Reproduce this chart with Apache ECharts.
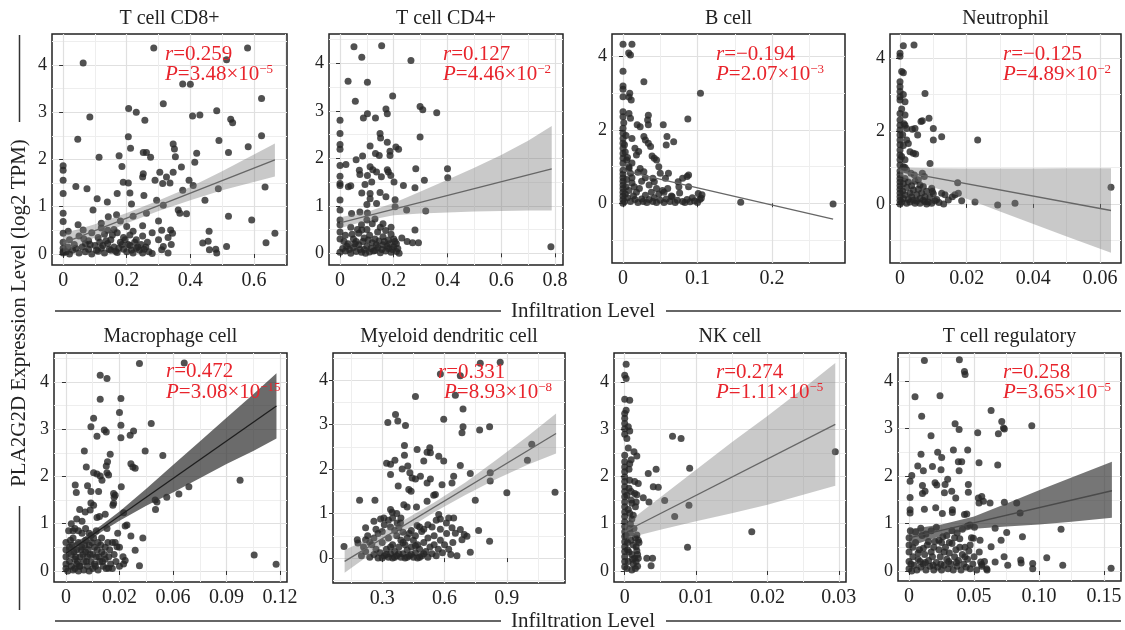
<!DOCTYPE html>
<html><head><meta charset="utf-8">
<script src="https://cdn.jsdelivr.net/npm/echarts@6/dist/echarts.min.js"></script>
<style>html,body{margin:0;padding:0;background:#fff}#c{width:1125px;height:630px}</style>
</head><body><div id="c"></div><script>
const FONT = "'Liberation Serif','Times New Roman',serif";
const RED = '#e8242c';

const titles = ['T cell CD8+','T cell CD4+','B cell','Neutrophil','Macrophage cell','Myeloid dendritic cell','NK cell','T cell regulatory'];
const rValues = ['0.259','0.127','\u22120.194','\u22120.125','0.472','0.331','0.274','0.258'];
const pMantissa = ['3.48','4.46','2.07','4.89','3.08','8.93','1.11','3.65'];
const pExponent = ['\u22125','\u22122','\u22123','\u22122','\u221215','\u22128','\u22125','\u22125'];

const xTicks = [[0,0.2,0.4,0.6],[0,0.2,0.4,0.6,0.8],[0,0.1,0.2],[0,0.02,0.04,0.06],[0,0.03,0.06,0.09,0.12],[0.3,0.6,0.9],[0,0.01,0.02,0.03],[0,0.05,0.10,0.15]];
const xTickLabels = [['0','0.2','0.4','0.6'],['0','0.2','0.4','0.6','0.8'],['0','0.1','0.2'],['0','0.02','0.04','0.06'],['0','0.02','0.06','0.09','0.12'],['0.3','0.6','0.9'],['0','0.01','0.02','0.03'],['0','0.05','0.10','0.15']];
const xMinorTicks = [[0.1,0.3,0.5,0.7],[0.1,0.3,0.5,0.7],[0.05,0.15,0.25],[0.01,0.03,0.05],[0.015,0.045,0.075,0.105],[0.15,0.45,0.75,1.05],[0.005,0.015,0.025],[0.025,0.075,0.125]];
const yTicks = [[0,1,2,3,4],[0,1,2,3,4],[0,2,4],[0,2,4],[0,1,2,3,4],[0,1,2,3,4],[0,1,2,3,4],[0,1,2,3,4]];
const yMinorTicks = [[0.5,1.5,2.5,3.5,4.5],[0.5,1.5,2.5,3.5,4.5],[-1,1,3],[-1,1,3],[0.5,1.5,2.5,3.5,4.5],[-0.5,0.5,1.5,2.5,3.5,4.5],[0.5,1.5,2.5,3.5,4.5],[0.5,1.5,2.5,3.5,4.5]];
const xRange = [[-0.035,0.704],[-0.041,0.83],[-0.0148,0.298],[-0.003,0.0663],[-0.0067,0.1239],[0.063,1.18],[-0.0015,0.031],[-0.0085,0.163]];
const yRange = [[-0.233,4.656],[-0.246,4.617],[-1.63,4.62],[-1.62,4.66],[-0.233,4.61],[-0.56,4.61],[-0.233,4.61],[-0.21,4.59]];

const cd8Points = [[0.063,4.04],[0.285,4.36],[0.58,4.36],[0.514,4.11],[0.376,3.6],[0.40,3.59],[0.084,2.9],[0.315,3.18],[0.206,3.08],[0.23,3.0],[0.257,2.83],[0.407,2.92],[0.43,2.94],[0.483,3.03],[0.624,3.29],[0.527,2.85],[0.533,2.78],[0.046,2.43],[0.205,2.48],[0.346,2.33],[0.35,2.22],[0.49,2.4],[0.582,2.27],[0.624,2.5],[0.212,2.24],[0.252,2.15],[0.262,2.15],[0,1.87],[0,1.77],[0,1.56],[0,1.28],[0,0.86],[0,0.69],[0,0.44],[0.113,2.05],[0.176,2.08],[0.275,2.05],[0.353,2.06],[0.185,1.85],[0.252,1.7],[0.25,1.63],[0.304,1.73],[0.325,1.63],[0.336,1.5],[0.346,1.73],[0.372,1.84],[0.396,1.56],[0.414,1.94],[0.42,2.13],[0.52,2.15],[0.04,1.43],[0.075,1.38],[0.189,1.52],[0.205,1.5],[0.289,1.56],[0.313,1.49],[0.17,1.28],[0.21,1.29],[0.254,1.24],[0.376,1.35],[0.409,1.45],[0.488,1.38],[0.446,1.14],[0.107,1.17],[0.139,1.1],[0.215,1.06],[0.294,1.14],[0.315,1.03],[0.362,0.93],[0.367,0.86],[0.388,0.85],[0.52,0.80],[0.593,0.72],[0.635,1.42],[0.666,0.44],[0.638,0.24],[0.514,0.16],[0.456,0.27],[0.439,0.23],[0.48,0.1],[0.483,0.02],[0.46,0.09],[0.459,0.48],[0.338,0.51],[0.344,0.44],[0.315,0.16],[0.31,0.09],[0.34,0.2],[0.33,0.02],[0.168,0.83],[0.142,0.79],[0.262,0.86],[0.094,0.93],[0.047,0.62],[0.063,0.51],[0.016,0.48],
[0.00,0.02],[0.01,0.05],[0.02,0.0],[0.03,0.08],[0.04,0.12],[0.05,0.02],[0.06,0.15],[0.07,0.05],[0.08,0.1],[0.09,0.0],[0.10,0.18],[0.11,0.06],[0.12,0.12],[0.13,0.02],[0.14,0.22],[0.15,0.08],[0.16,0.15],[0.17,0.03],[0.18,0.25],[0.19,0.1],[0.20,0.05],[0.21,0.18],[0.22,0.02],[0.23,0.12],[0.24,0.08],[0.25,0.02],[0.26,0.15],[0.27,0.05],[0.28,0.01],[0.02,0.3],[0.05,0.38],[0.08,0.28],[0.11,0.35],[0.13,0.42],[0.15,0.3],[0.17,0.45],[0.19,0.35],[0.21,0.4],[0.23,0.3],[0.25,0.38],[0.12,0.55],[0.16,0.52],[0.2,0.58],[0.22,0.48],[0.09,0.45],[0.07,0.22],[0.135,0.28],[0.185,0.2],[0.145,0.1],[0.165,0.06],[0.195,0.3],[0.205,0.2],[0.225,0.25],[0.245,0.2],[0.265,0.25],[0.155,0.4],[0.125,0.18],[0.105,0.08],[0.085,0.2],[0.065,0.32],[0.035,0.2],[0.015,0.15],[0.0,0.25],[0.0,0.12],[0.0,0.05],[0.115,0.25],[0.175,0.12],[0.215,0.08],[0.235,0.15],[0.255,0.1],[0.3,0.3],[0.31,0.5],[0.3,0.7],[0.33,0.35],[0.25,0.6],[0.28,0.45],[0.12,0.65],[0.18,0.7],[0.22,0.8],[0.14,0.5]];

const cd4Points = [[0.052,4.35],[0.155,4.37],[0.081,4.13],[0.264,4.06],[0.03,3.62],[0.102,3.6],[0.057,3.2],[0.196,3.31],[0.171,3.04],[0.176,2.94],[0.298,3.09],[0.308,3.02],[0.36,2.96],[0,2.8],[0.102,2.94],[0.087,2.85],[0.132,2.85],[0,2.52],[0.149,2.52],[0.151,2.43],[0.298,2.45],[0,2.29],[0,2.19],[0.176,2.34],[0.112,2.26],[0.132,2.1],[0.146,2.06],[0.186,2.15],[0.186,2.06],[0.208,2.24],[0.218,2.19],[0.084,2.05],[0.06,1.97],[0,1.85],[0.022,1.87],[0,1.62],[0,1.47],[0,1.43],[0.031,1.4],[0.04,1.42],[0.072,1.75],[0.074,1.66],[0.112,1.82],[0.122,1.76],[0.136,1.71],[0.176,1.76],[0.18,1.71],[0.189,1.64],[0.102,1.64],[0.118,1.5],[0.093,1.45],[0.154,1.61],[0.201,1.5],[0.236,1.43],[0.282,1.78],[0.314,1.54],[0.279,1.38],[0.4,1.78],[0.401,1.59],[0.081,1.27],[0.112,1.26],[0.112,1.15],[0.149,1.28],[0.171,1.19],[0.205,1.13],[0,1.12],[0.1,1.03],[0.136,1.05],[0,0.91],[0.043,0.84],[0.074,0.87],[0.102,0.85],[0.248,0.91],[0.319,0.89],[0.205,0.98],[0.279,0.49],[0.292,0.22],[0.081,0.49],[0.785,0.14],
[0.0,0.02],[0.01,0.1],[0.02,0.05],[0.03,0.2],[0.04,0.0],[0.05,0.12],[0.06,0.04],[0.07,0.18],[0.08,0.02],[0.09,0.08],[0.10,0.15],[0.11,0.03],[0.12,0.22],[0.13,0.06],[0.14,0.12],[0.15,0.01],[0.16,0.18],[0.17,0.05],[0.18,0.1],[0.19,0.02],[0.2,0.14],[0.21,0.04],[0.22,0.0],[0.0,0.3],[0.0,0.45],[0.0,0.6],[0.0,0.7],[0.02,0.38],[0.04,0.55],[0.05,0.3],[0.07,0.42],[0.08,0.6],[0.09,0.32],[0.1,0.5],[0.11,0.38],[0.12,0.62],[0.13,0.3],[0.14,0.45],[0.15,0.55],[0.16,0.35],[0.17,0.48],[0.18,0.28],[0.19,0.4],[0.2,0.3],[0.21,0.2],[0.13,0.72],[0.1,0.7],[0.06,0.25],[0.035,0.08],[0.055,0.2],[0.075,0.08],[0.085,0.25],[0.095,0.0],[0.105,0.28],[0.115,0.1],[0.125,0.05],[0.135,0.18],[0.145,0.26],[0.155,0.08],[0.165,0.25],[0.175,0.15],[0.185,0.2],[0.195,0.08],[0.205,0.25],[0.215,0.1],[0.015,0.25],[0.025,0.15],[0.045,0.4],[0.065,0.5],[0.16,0.62],[0.19,0.55],[0.23,0.32],[0.25,0.25],[0.27,0.22]];

const bCellPoints = [[0,4.34],[0.012,4.34],[0.0076,4.1],[0.01,4.05],[0,3.6],[0.028,3.32],[0,3.2],[0,3.11],[0,2.91],[0.008,2.9],[0.011,2.82],[0.009,3.0],[0.104,3.0],[0,2.5],[0,2.36],[0.008,2.45],[0.01,2.32],[0.034,2.4],[0.033,2.27],[0.087,2.3],[0,2.05],[0,1.91],[0,1.77],[0,1.64],[0,1.5],[0,1.36],[0,1.23],[0,1.09],[0.019,2.14],[0.023,2.09],[0.034,2.14],[0.054,2.14],[0.012,1.77],[0.028,1.82],[0.03,1.73],[0.059,1.82],[0.068,1.68],[0.058,1.59],[0.016,1.5],[0.021,1.41],[0.018,1.32],[0.037,1.55],[0.034,1.64],[0.039,1.29],[0.042,1.23],[0.045,1.18],[0.005,1.18],[0.008,0.95],[0.01,0.82],[0.023,0.95],[0.028,0.86],[0.048,1.0],[0.05,0.82],[0.061,0.82],[0.08,0.68],[0.086,0.73],[0.088,0.77],[0.04,0.68],[0.042,0.59],[0.057,0.68],[0.074,0.59],[0.088,0.45],[0.158,0.03],[0.282,-0.02],[0.101,0.27],[0.106,0.23],[0.105,0.14],
[0,0.0],[0,0.1],[0,0.2],[0,0.3],[0,0.4],[0,0.5],[0,0.6],[0,0.7],[0,0.8],[0,0.9],[0.002,0.05],[0.003,0.25],[0.004,0.45],[0.005,0.65],[0.006,0.15],[0.008,0.35],[0.01,0.05],[0.012,0.55],[0.014,0.2],[0.016,0.1],[0.018,0.3],[0.02,0.02],[0.022,0.4],[0.025,0.12],[0.027,0.05],[0.03,0.22],[0.032,0.02],[0.035,0.1],[0.038,0.3],[0.04,0.05],[0.042,0.15],[0.045,0.02],[0.048,0.25],[0.05,0.08],[0.053,0.35],[0.055,0.02],[0.058,0.12],[0.06,0.4],[0.063,0.05],[0.066,0.18],[0.07,0.02],[0.073,0.08],[0.076,0.28],[0.08,0.05],[0.083,0.02],[0.086,0.1],[0.09,0.04],[0.093,0.15],[0.096,0.06],[0.1,0.02],[0.103,0.1],[0.015,0.45],[0.025,0.6],[0.035,0.5],[0.045,0.4],[0.055,0.3],[0.065,0.2],[0.075,0.45],[0.012,0.7],[0.02,0.85],[0.03,0.7],[0.008,1.0],[0.012,1.1],[0.006,1.25],[0.003,1.4],[0.002,1.6],[0.004,1.85],[0.001,2.2]];

const neutrophilPoints = [[0.001,4.34],[0.0042,4.36],[0,4.13],[0,4.05],[0.0005,3.63],[0.001,3.6],[0,3.35],[0,3.21],[0,3.08],[0,2.94],[0,2.85],[0.0015,2.8],[0.0075,3.03],[0,2.48],[0,2.3],[0,2.16],[0,2.03],[0,1.89],[0,1.75],[0,1.62],[0,1.48],[0,1.34],[0,1.21],[0,1.07],[0.0015,2.44],[0.0015,2.16],[0.002,2.07],[0.0037,2.05],[0.0045,2.07],[0.0063,2.26],[0.0067,2.28],[0.0087,2.35],[0.01,2.07],[0.0053,1.89],[0.01,1.75],[0.0125,1.84],[0.0233,1.75],[0.002,1.75],[0.0025,1.66],[0.003,1.43],[0.004,1.39],[0.0047,1.37],[0.009,1.11],[0.0015,1.21],[0.001,1.02],[0.002,0.93],[0.0033,0.84],[0.0043,0.79],[0.0067,0.84],[0.0073,0.75],[0.0055,0.66],[0.006,0.52],[0.0095,0.43],[0.0097,0.34],[0.0125,0.29],[0.0135,0.25],[0.0157,0.2],[0.0165,0.25],[0.0175,0.29],[0.0173,0.58],[0.0185,0.09],[0.0225,0.05],[0.0293,-0.03],[0.0345,0.02],[0.0633,0.46],[0.0105,0.09],[0.0117,0.04],[0.0131,0],[0.0145,0.11],[0.0075,0.06],[0.008,0],
[0,0.0],[0,0.1],[0,0.2],[0,0.3],[0,0.4],[0,0.5],[0,0.6],[0,0.7],[0,0.8],[0,0.9],[0.0005,0.05],[0.0008,0.35],[0.001,0.15],[0.001,0.55],[0.0015,0.25],[0.0015,0.7],[0.002,0.02],[0.002,0.45],[0.0025,0.12],[0.0025,0.6],[0.003,0.3],[0.003,0.05],[0.0035,0.2],[0.0035,0.5],[0.004,0.1],[0.004,0.38],[0.0045,0.02],[0.0045,0.62],[0.005,0.25],[0.005,0.08],[0.0055,0.4],[0.006,0.15],[0.006,0.02],[0.0065,0.3],[0.007,0.1],[0.007,0.48],[0.0075,0.2],[0.008,0.35],[0.0085,0.05],[0.009,0.18],[0.0095,0.02],[0.01,0.28],[0.011,0.12],[0.0005,1.3],[0.001,1.6],[0.0008,1.9],[0.0012,2.2],[0.0005,2.6],[0.001,3.0],[0.0015,1.0]];

const macrophagePoints = [[0.0412,4.39],[0.0663,4.4],[0.0192,4.14],[0.023,4.07],[0.0192,3.63],[0.0308,3.65],[0.03,3.35],[0.0308,3.08],[0.0155,3.23],[0.014,3.05],[0.0215,2.98],[0.0226,2.94],[0.0174,2.85],[0.0308,2.82],[0.036,2.87],[0.0379,2.96],[0.0478,3.12],[0.0103,2.54],[0.0248,2.47],[0.0444,2.54],[0.0543,2.44],[0.0233,2.31],[0.0226,2.22],[0.0114,2.2],[0.0364,2.27],[0.0375,2.2],[0.0388,2.17],[0.0155,2.08],[0.0174,2.05],[0.023,2.08],[0.0239,2.03],[0.0192,2.01],[0.0202,1.92],[0.0052,1.82],[0.0058,1.66],[0.0121,1.8],[0.014,1.68],[0.0183,1.68],[0.0267,1.64],[0.0276,1.6],[0.027,1.56],[0.031,1.78],[0.0976,1.92],[0.0689,1.78],[0.0633,1.63],[0.0565,1.56],[0.05,1.5],[0.051,1.46],[0.0502,1.3],[0.0077,1.3],[0.0108,1.25],[0.0136,1.29],[0.014,1.44],[0.0155,1.39],[0.0174,1.13],[0.0188,1.15],[0.022,1.2],[0.0267,1.43],[0.0263,1.39],[0.0323,1.23],[0.0332,0.95],[0.0342,0.97],[0.0431,0.7],[0.0364,0.74],[0.0388,0.44],[0.0412,0.11],[0.0323,0.15],[0.0332,0.22],[0.0286,0.51],[0.0276,0.6],[0.1055,0.34],[0.1178,0.14],[0.0239,0.06],
[0,0.05],[0,0.15],[0,0.3],[0,0.45],[0,0.6],[0.001,0.0],[0.002,0.2],[0.002,0.5],[0.003,0.1],[0.003,0.35],[0.004,0.02],[0.004,0.7],[0.005,0.25],[0.005,0.05],[0.006,0.45],[0.006,0.15],[0.007,0.6],[0.007,0.0],[0.008,0.3],[0.008,0.1],[0.009,0.8],[0.009,0.5],[0.01,0.2],[0.01,0.02],[0.011,0.4],[0.011,0.65],[0.012,0.1],[0.012,0.3],[0.013,0.0],[0.013,0.55],[0.014,0.2],[0.014,0.75],[0.015,0.35],[0.015,0.05],[0.016,0.5],[0.016,0.15],[0.017,0.85],[0.017,0.3],[0.018,0.02],[0.018,0.6],[0.019,0.2],[0.02,0.4],[0.02,0.7],[0.021,0.1],[0.022,0.5],[0.022,0.25],[0.023,0.9],[0.024,0.3],[0.025,0.15],[0.026,0.6],[0.027,0.35],[0.028,0.2],[0.029,0.8],[0.03,0.5],[0.0015,0.85],[0.003,1.0],[0.005,0.9],[0.007,0.85],[0.009,1.05],[0.011,0.9],[0.013,0.8],[0.006,1.1],[0.004,0.85],[0.0025,0.65],[0.0035,0.55],[0.0045,0.4],[0.0055,0.3],[0.0065,0.2],[0.0075,0.1],[0.0085,0.45],[0.0095,0.35],[0.0105,0.55],[0.0115,0.2],[0.0125,0.45],[0.0135,0.35],[0.0145,0.6],[0.0155,0.7],[0.0165,0.1],[0.0175,0.45],[0.0185,0.3],[0.0195,0.55],[0.0205,0.2],[0.0215,0.35],[0.0225,0.05],[0.0235,0.6],[0.0245,0.45],[0.026,0.05],[0.03,0.1],[0.032,0.3]];

const mdcPoints = [[0.772,4.38],[0.868,4.4],[0.58,4.14],[0.676,4.1],[0.652,3.66],[0.46,3.63],[0.364,3.23],[0.375,3.08],[0.327,3.05],[0.412,2.98],[0.596,3.12],[0.689,3.35],[0.689,2.95],[0.684,2.82],[0.769,2.88],[0.817,2.95],[0.407,2.53],[0.468,2.44],[0.529,2.48],[0.532,2.37],[0.516,2.38],[0.407,2.31],[0.321,2.13],[0.34,2.11],[0.361,2.2],[0.423,2.07],[0.396,2.0],[0.5,2.18],[0.572,2.29],[0.596,2.18],[0.676,2.08],[0.999,2.2],[1.02,2.56],[0.433,1.92],[0.444,1.8],[0.46,1.78],[0.484,1.84],[0.34,1.88],[0.377,1.62],[0.428,1.54],[0.439,1.5],[0.532,1.78],[0.516,1.69],[0.588,1.65],[0.644,1.84],[0.636,1.69],[0.724,1.9],[0.82,1.92],[0.82,1.73],[0.9,1.47],[1.132,1.48],[0.516,1.28],[0.548,1.41],[0.556,1.43],[0.465,1.15],[0.404,1.2],[0.42,1.15],[0.748,1.3],[0.191,1.3],[0.265,1.3],[0.34,1.09],[0.348,1.03],[0.292,0.88],[0.308,0.9],[0.26,0.83],[0.372,0.79],[0.388,0.79],[0.468,0.73],[0.572,0.98],[0.58,0.88],[0.609,0.79],[0.62,0.9],[0.644,0.9],[0.636,0.68],[0.652,0.56],[0.676,0.64],[0.695,0.53],[0.684,0.41],[0.708,0.49],[0.764,0.62],[0.817,0.38],[0.724,0.13],[0.66,0.05],[0.116,0.26],[0.18,0.41],[0.183,0.34],[0.22,0.68],[0.22,0.41],
[0.2,0.05],[0.22,0.15],[0.24,0.02],[0.25,0.3],[0.26,0.08],[0.27,0.2],[0.28,0.0],[0.29,0.12],[0.3,0.35],[0.31,0.05],[0.32,0.2],[0.33,0.45],[0.33,0.02],[0.34,0.1],[0.35,0.3],[0.35,0.0],[0.36,0.15],[0.37,0.5],[0.37,0.05],[0.38,0.25],[0.39,0.02],[0.39,0.4],[0.4,0.1],[0.41,0.3],[0.41,0.0],[0.42,0.18],[0.43,0.55],[0.43,0.05],[0.44,0.25],[0.45,0.02],[0.45,0.4],[0.46,0.12],[0.47,0.3],[0.47,0.0],[0.48,0.2],[0.49,0.6],[0.49,0.05],[0.5,0.35],[0.51,0.15],[0.52,0.02],[0.52,0.45],[0.53,0.25],[0.54,0.1],[0.55,0.5],[0.55,0.3],[0.56,0.05],[0.57,0.2],[0.58,0.4],[0.59,0.12],[0.6,0.3],[0.61,0.55],[0.62,0.2],[0.63,0.08],[0.64,0.35],[0.3,0.6],[0.28,0.55],[0.26,0.45],[0.24,0.35],[0.34,0.7],[0.36,0.62],[0.38,0.68],[0.4,0.58],[0.42,0.45],[0.44,0.62],[0.46,0.5],[0.48,0.7],[0.5,0.65],[0.52,0.75],[0.54,0.7],[0.56,0.85],[0.58,0.65],[0.3,0.0],[0.32,0.08],[0.34,0.25],[0.36,0.02],[0.38,0.1],[0.4,0.35],[0.42,0.02],[0.44,0.08],[0.46,0.28],[0.48,0.02],[0.5,0.1],[0.21,0.25],[0.23,0.5],[0.27,0.65],[0.31,0.75],[0.33,0.85],[0.35,0.9],[0.37,1.0],[0.39,0.9]];

const nkPoints = [[0.0002,4.37],[0,4.14],[0.0002,4.07],[0,3.63],[0.0007,3.61],[0,3.33],[0,3.23],[0,3.12],[0,3.01],[0,2.89],[0.0005,3.05],[0.0007,2.96],[0.0067,2.85],[0.0079,2.8],[0.0013,2.52],[0.0017,2.43],[0,2.45],[0,2.31],[0,2.2],[0,2.1],[0,1.99],[0,1.89],[0,1.78],[0,1.68],[0,1.57],[0,1.46],[0,1.36],[0,1.25],[0,1.15],[0,1.04],[0,0.94],[0,0.83],[0,0.73],[0,0.62],[0,0.51],[0,0.41],[0,0.3],[0,0.2],[0,0.09],[0.0007,2.27],[0.0009,2.35],[0.0033,2.06],[0.0044,2.15],[0.0091,2.17],[0.004,1.78],[0.0047,1.77],[0.0056,1.49],[0.009,1.39],[0.007,1.15],[0.0178,0.83],[0.0088,0.5],[0.0295,2.52],[0.0026,1.55],[0.0034,1.46],[0.0007,1.92],[0.0014,1.89],[0.0019,1.85],[0.0009,1.68],[0.0014,1.64],[0.0017,1.61],[0.001,1.43],[0.0016,1.46],[0.0015,1.36],[0.0007,1.22],[0.0012,1.18],[0.0017,0.76],[0.0019,0.65],[0.0016,0.51],[0.0017,0.43],[0.0014,0.27],[0.0019,0.27],[0.0031,0.27],[0.0039,0.27],[0.0037,0.11],
[0.0003,0.05],[0.0005,0.2],[0.0006,0.4],[0.0004,0.6],[0.0008,0.8],[0.001,0.02],[0.001,0.35],[0.0012,0.55],[0.0012,0.15],[0.0015,0.7],[0.0015,0.05],[0.0008,1.0],[0.0005,1.3],[0.0003,1.6],[0.0006,1.75],[0.001,1.1],[0.0013,0.9],[0.0018,0.35],[0.0018,0.1],[0.002,0.6],[0.0005,2.6],[0.0003,2.8],[0.0002,3.4],[0.0006,2.15],[0.0009,1.5],[0.0007,0.9],[0.0011,0.25],[0.0004,0.45],[0.0016,0.2],[0.0002,0.75],[0.0009,0.65]];

const tregPoints = [[0.0118,4.43],[0.0387,4.45],[0.0426,4.2],[0.0431,4.14],[0.0046,3.67],[0.0238,3.69],[0.0631,3.38],[0.0713,3.15],[0.0726,3.01],[0.0733,2.99],[0.0944,3.06],[0.0097,3.26],[0.0354,3.1],[0.0385,2.98],[0.0528,2.91],[0.0687,2.89],[0.0169,2.85],[0.022,2.5],[0.0251,2.39],[0.0341,2.55],[0.0451,2.55],[0.0092,2.46],[0.0067,2.21],[0.011,2.11],[0.018,2.2],[0.0246,2.13],[0.0379,2.3],[0.0405,2.3],[0.0385,2.11],[0.0538,2.28],[0.0682,2.23],[0.0008,1.89],[0.0021,2.01],[0.0008,1.55],[0.0103,1.8],[0.0103,1.63],[0.0123,1.68],[0.02,1.86],[0.0213,1.81],[0.0277,1.82],[0.0297,1.93],[0.0272,1.65],[0.0328,1.68],[0.0359,1.54],[0.0456,1.82],[0.0456,1.66],[0.0008,1.29],[0.0008,1.22],[0.0118,1.3],[0.0205,1.33],[0.0333,1.29],[0.0333,1.23],[0.0426,1.19],[0.0444,1.2],[0.0533,1.54],[0.0559,1.57],[0.0572,1.47],[0.0538,1.43],[0.0623,1.43],[0.0733,1.45],[0.0828,1.43],[0.0854,1.22],[0.0256,1.21],[0.1169,0.88],[0.0872,0.72],[0.0708,0.65],[0.0751,0.81],[0.0631,0.51],[0.0546,0.65],[0.0495,0.69],[0.0662,0.9],[0.0469,0.97],[0.0503,0.92],[0.1059,0.28],[0.0951,0.16],[0.0951,0.05],[0.0859,0.23],[0.0862,0.17],[0.0759,0.12],[0.0731,0.3],[0.1182,0.12],[0.1554,0.06],[0.0662,0.19],[0.0551,0.19],[0.0559,0.14],[0.0597,0.05],
[0,0.05],[0,0.2],[0,0.4],[0,0.55],[0,0.7],[0.002,0.0],[0.003,0.3],[0.004,0.12],[0.005,0.6],[0.006,0.02],[0.007,0.25],[0.008,0.45],[0.009,0.08],[0.01,0.75],[0.011,0.15],[0.012,0.35],[0.013,0.02],[0.014,0.55],[0.015,0.22],[0.016,0.1],[0.017,0.4],[0.018,0.3],[0.019,0.02],[0.02,0.62],[0.021,0.18],[0.022,0.08],[0.023,0.45],[0.024,0.3],[0.025,0.02],[0.026,0.72],[0.027,0.12],[0.028,0.5],[0.029,0.25],[0.03,0.05],[0.031,0.38],[0.032,0.15],[0.033,0.58],[0.034,0.02],[0.035,0.3],[0.036,0.45],[0.037,0.1],[0.038,0.22],[0.039,0.68],[0.04,0.02],[0.041,0.35],[0.042,0.15],[0.043,0.5],[0.044,0.08],[0.045,0.25],[0.046,0.42],[0.047,0.05],[0.048,0.7],[0.049,0.15],[0.05,0.3],[0.052,0.02],[0.054,0.4],[0.056,0.1],[0.058,0.2],[0.06,0.02],[0.001,0.85],[0.005,0.82],[0.009,0.9],[0.013,0.78],[0.017,0.85],[0.021,0.92],[0.025,0.6],[0.029,0.75],[0.033,0.85],[0.037,0.8],[0.041,0.88],[0.045,0.95],[0.003,0.5],[0.007,0.38],[0.011,0.48],[0.015,0.62],[0.019,0.5],[0.023,0.65],[0.027,0.4],[0.031,0.6],[0.035,0.7],[0.039,0.5],[0.043,0.3],[0.047,0.55],[0.0015,0.15],[0.0085,0.2],[0.0125,0.18],[0.0185,0.12],[0.0245,0.15],[0.0305,0.2],[0.0365,0.18]];

const panelPoints = [cd8Points, cd4Points, bCellPoints, neutrophilPoints, macrophagePoints, mdcPoints, nkPoints, tregPoints];

// fitted regression lines (endpoints)
const fitX = [[0,0.666],[0,0.788],[0,0.282],[0,0.0633],[0,0.118],[0.119,1.137],[0,0.0295],[0,0.156]];
const fitY = [[0.23,1.99],[0.64,1.78],[0.89,-0.43],[0.89,-0.18],[0.37,3.49],[-0.075,2.80],[0.83,3.10],[0.70,1.69]];

// confidence bands
const bandX = [
  [0,0.1,0.2,0.3,0.4,0.5,0.666],
  [0,0.1,0.2,0.3,0.4,0.5,0.6,0.7,0.788],
  [],
  [0,0.01,0.02,0.03,0.04,0.05,0.0633],
  [0,0.01,0.02,0.03,0.045,0.06,0.075,0.09,0.105,0.118],
  [0.119,0.25,0.4,0.55,0.7,0.85,1.0,1.137],
  [0,0.005,0.01,0.015,0.02,0.025,0.0295],
  [0,0.025,0.05,0.075,0.1,0.125,0.156]
];
const bandUpper = [
  [0.43,0.63,0.87,1.13,1.42,1.75,2.34],
  [0.76,0.87,1.06,1.30,1.55,1.80,2.07,2.37,2.68],
  [],
  [1.0,0.98,0.97,0.97,0.97,0.98,0.98],
  [0.49,0.71,0.97,1.26,1.74,2.24,2.74,3.24,3.74,4.18],
  [0.18,0.47,0.84,1.25,1.70,2.21,2.74,3.25],
  [0.98,1.56,2.14,2.72,3.28,3.86,4.40],
  [0.88,0.98,1.15,1.42,1.70,1.97,2.30]
];
const bandLower = [
  [0.03,0.35,0.65,0.91,1.14,1.35,1.64],
  [0.53,0.69,0.80,0.84,0.86,0.88,0.89,0.90,0.90],
  [],
  [0.76,0.46,0.14,-0.21,-0.55,-0.89,-1.34],
  [0.25,0.55,0.83,1.06,1.38,1.66,1.96,2.26,2.54,2.80],
  [-0.33,0.11,0.59,1.03,1.42,1.78,2.10,2.35],
  [0.68,0.87,1.05,1.22,1.40,1.61,1.80],
  [0.52,0.74,0.89,0.94,0.98,1.04,1.12]
];

// layout & style
const grids = [
  {left:52, top:34, width:235, height:231},
  {left:329, top:34, width:234, height:231},
  {left:612, top:34, width:233, height:229},
  {left:890, top:34, width:231, height:229},
  {left:54, top:353, width:233, height:229},
  {left:333, top:353, width:232, height:230},
  {left:614, top:353, width:232, height:229},
  {left:898, top:353, width:223, height:228}
];
const bandColors = ['rgba(120,120,120,0.4)','rgba(120,120,120,0.4)','rgba(120,120,120,0.4)','rgba(120,120,120,0.4)','rgba(50,50,50,0.72)','rgba(120,120,120,0.4)','rgba(120,120,120,0.4)','rgba(60,60,60,0.7)'];
const lineColors = ['#666','#666','#666','#666','#1e1e1e','#666','#666','#4a4a4a'];
const rPos = [[165,54],[443,54],[716,54],[1003,54],[166,371],[438,372],[716,372],[1003,372]];
const pPos = [[165,74],[443,74],[716,74],[1003,74],[166,392],[444,392],[716,392],[1003,392]];

function labelFor(vals, labels) {
  return function (v) {
    for (let k = 0; k < vals.length; k++) if (Math.abs(vals[k] - v) < 1e-9) return labels[k];
    return '';
  };
}

const xAxes = [], yAxes = [], series = [], graphics = [];
for (let i = 0; i < 8; i++) {
  xAxes.push({type:'value', gridIndex:i, min:xRange[i][0], max:xRange[i][1], position:'bottom',
    axisLine:{show:false},
    axisTick:{show:true, customValues:xTicks[i], length:4, lineStyle:{color:'#333', width:1}},
    axisLabel:{customValues:xTicks[i], formatter:labelFor(xTicks[i], xTickLabels[i]), fontFamily:FONT, fontSize:20, color:'#222', margin:6},
    splitLine:{show:true, lineStyle:{color:'#e0e0e0', width:1.2}}});
  yAxes.push({type:'value', gridIndex:i, min:yRange[i][0], max:yRange[i][1], position:'left',
    axisLine:{show:false},
    axisTick:{show:true, customValues:yTicks[i], length:4, lineStyle:{color:'#333', width:1}},
    axisLabel:{customValues:yTicks[i], formatter:labelFor(yTicks[i], yTicks[i].map(String)), fontFamily:FONT, fontSize:18, color:'#222', margin:5},
    splitLine:{show:true, lineStyle:{color:'#e0e0e0', width:1.2}}});
}
for (let i = 0; i < 8; i++) {
  xAxes.push({type:'value', gridIndex:i, min:xRange[i][0], max:xRange[i][1], position:'top',
    axisLine:{show:false}, axisTick:{show:false, customValues:xMinorTicks[i]},
    axisLabel:{show:false, customValues:xMinorTicks[i]},
    splitLine:{show:true, lineStyle:{color:'#eeeeee', width:1}}});
  yAxes.push({type:'value', gridIndex:i, min:yRange[i][0], max:yRange[i][1], position:'right',
    axisLine:{show:false}, axisTick:{show:false, customValues:yMinorTicks[i]},
    axisLabel:{show:false, customValues:yMinorTicks[i]},
    splitLine:{show:true, lineStyle:{color:'#eeeeee', width:1}}});
}

for (let i = 0; i < 8; i++) {
  series.push({type:'scatter', xAxisIndex:i, yAxisIndex:i, data:panelPoints[i], symbolSize:7, z:2, silent:true,
    itemStyle:{color:'#262626', opacity:0.8}});
  if (bandX[i].length) {
    const bx = bandX[i], bu = bandUpper[i], bl = bandLower[i], col = bandColors[i];
    series.push({type:'custom', xAxisIndex:i, yAxisIndex:i, z:3, silent:true, data:[[bx[0], bu[0]]],
      renderItem: function (params, api) {
        const pts = [];
        for (let k = 0; k < bx.length; k++) pts.push(api.coord([bx[k], bu[k]]));
        for (let k = bx.length - 1; k >= 0; k--) pts.push(api.coord([bx[k], bl[k]]));
        return {type:'polygon', shape:{points:pts}, style:{fill:col}};
      }});
  }
  series.push({type:'line', xAxisIndex:i, yAxisIndex:i, z:4, silent:true, showSymbol:false,
    data:[[fitX[i][0], fitY[i][0]],[fitX[i][1], fitY[i][1]]],
    lineStyle:{color:lineColors[i], width:1.3}});

  const g = grids[i];
  graphics.push({type:'text', x:g.left + g.width/2, y:i < 4 ? 19 : 337,
    style:{text:titles[i], fill:'#222', font:'20px ' + FONT, textAlign:'center', textVerticalAlign:'middle'}});
  const rich = {
    i:{fontStyle:'italic', fontSize:21, fontFamily:FONT, fill:RED},
    n:{fontSize:21, fontFamily:FONT, fill:RED},
    s:{fontSize:13, fontFamily:FONT, fill:RED, verticalAlign:'top', lineHeight:12}
  };
  graphics.push({type:'text', x:rPos[i][0], y:rPos[i][1], z:10,
    style:{text:'{i|r}{n|=' + rValues[i] + '}', rich:rich, textAlign:'left', textVerticalAlign:'middle'}});
  graphics.push({type:'text', x:pPos[i][0], y:pPos[i][1], z:10,
    style:{text:'{i|P}{n|=' + pMantissa[i] + '\u00d710}{s|' + pExponent[i] + '}', rich:rich, textAlign:'left', textVerticalAlign:'middle'}});
}

// shared axis titles with flanking rules
const ruleStyle = {stroke:'#333', lineWidth:1.5};
[311, 621].forEach(function (yy) {
  graphics.push({type:'line', shape:{x1:55, y1:yy, x2:501, y2:yy}, style:ruleStyle});
  graphics.push({type:'line', shape:{x1:666, y1:yy, x2:1121, y2:yy}, style:ruleStyle});
  graphics.push({type:'text', x:583, y:yy, style:{text:'Infiltration Level', fill:'#222', font:'21px ' + FONT, textAlign:'center', textVerticalAlign:'middle'}});
});
graphics.push({type:'line', shape:{x1:19.5, y1:35, x2:19.5, y2:122}, style:ruleStyle});
graphics.push({type:'line', shape:{x1:19.5, y1:506, x2:19.5, y2:610}, style:ruleStyle});
graphics.push({type:'text', x:19.5, y:313, rotation:Math.PI/2,
  style:{text:'PLA2G2D Expression Level (log2 TPM)', fill:'#222', font:'21px ' + FONT, textAlign:'center', textVerticalAlign:'middle'}});

const chart = echarts.init(document.getElementById('c'), null, {renderer:'canvas'});
chart.setOption({
  animation:false,
  backgroundColor:'#fff',
  grid: grids.map(function (g) { return Object.assign({show:true, borderColor:'#222', borderWidth:1.5, backgroundColor:'#fff', containLabel:false}, g); }),
  xAxis: xAxes,
  yAxis: yAxes,
  series: series,
  graphic: graphics
});
</script></body></html>
